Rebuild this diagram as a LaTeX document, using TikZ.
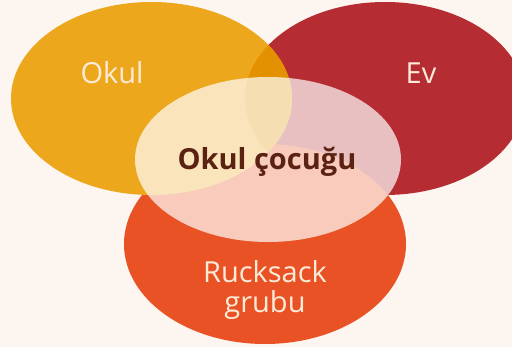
\documentclass[tikz,border=0pt]{standalone}
\usepackage{fontspec}
\setmainfont{Open Sans}
\usetikzlibrary{positioning}

\definecolor{bgcream}{HTML}{FDF5EF}
\definecolor{okulcol}{HTML}{EDA71C}
\definecolor{evcol}{HTML}{B52C32}
\definecolor{ruckcol}{HTML}{E85224}
\definecolor{overcol}{HTML}{E39100}
\definecolor{labelcol}{HTML}{FDEBDA}
\definecolor{kidcol}{HTML}{5B2212}

\tikzset{
  setlabel/.style={text=labelcol, font=\fontsize{29}{30}\selectfont, align=center, inner sep=0pt},
  kidlabel/.style={text=kidcol, font=\fontsize{29}{30}\selectfont\bfseries, inner sep=0pt}
}

\begin{document}
\begin{tikzpicture}[x=1pt,y=-1pt]
\fill [bgcream](0,0) rectangle (512,347);
\useasboundingbox (0,0) rectangle (512,347);
\clip (0,0) rectangle (512,347);

% the three sets
\fill [evcol] (385,98.5) ellipse (140 and 96.5);
\fill [ruckcol] (265,244) ellipse (141 and 100);
\fill [okulcol] (151.5,98.5) ellipse (140.5 and 96.5);
\begin{scope}
\clip (385,98.5) ellipse (140 and 96.5);
\fill [overcol] (151.5,98.5) ellipse (140.5 and 96.5);
\end{scope}

% the child in the middle
\fill [white, opacity=0.7] (268,159.5) ellipse (133 and 82.5);

\node [setlabel, anchor=base] (okul) at (112,84) {Okul};
\node [setlabel, anchor=base] (ev) at (421,84) {Ev};
\node [setlabel] (ruck) at (265,290) {Rucksack\\grubu};
\node [kidlabel, anchor=base] (kid) at (267,170) {Okul çocuğu};

\end{tikzpicture}
\end{document}
